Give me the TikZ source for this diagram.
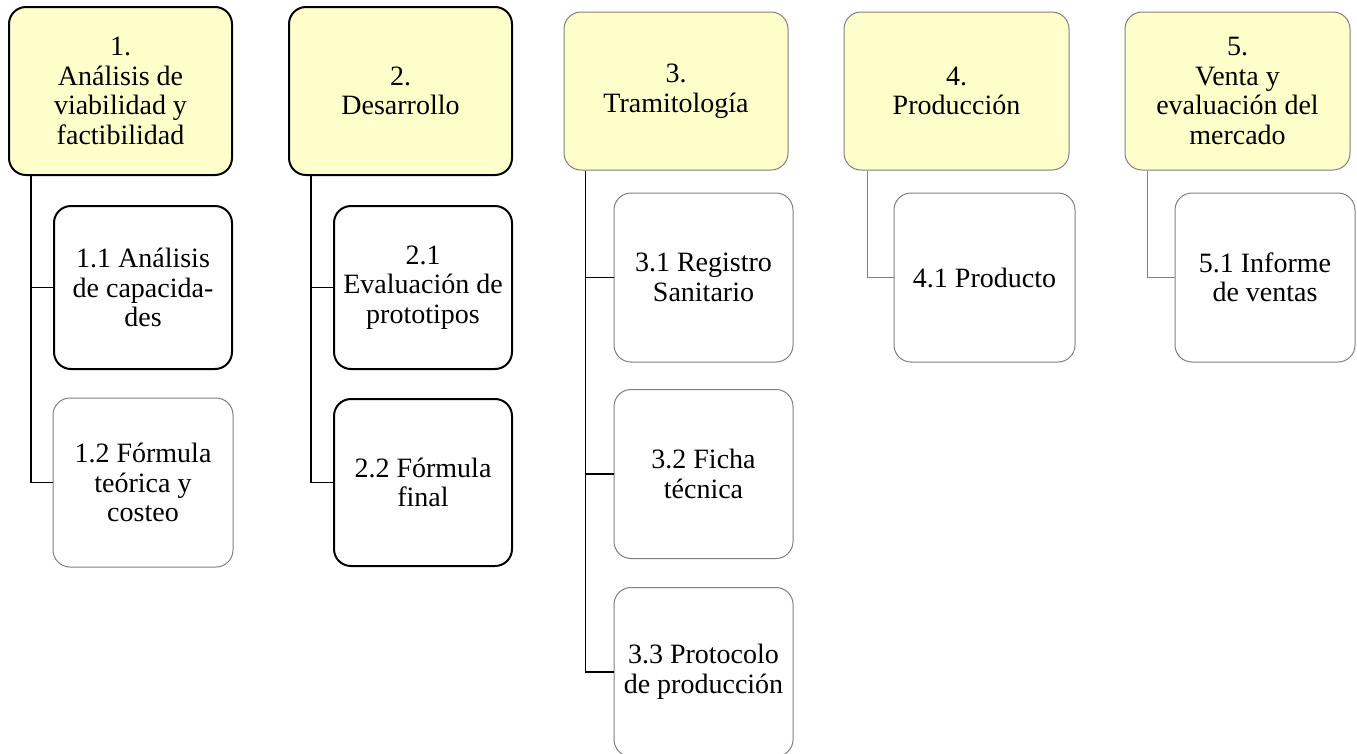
\documentclass[tikz,border=0pt]{standalone}
\usepackage{fontspec}
\setmainfont{Liberation Serif}
\definecolor{headfill}{HTML}{FFFFCC}
\definecolor{thinline}{HTML}{7F7F7F}
\tikzset{
  box/.style={rectangle, rounded corners=17pt, align=center, inner sep=0pt,
    font=\fontsize{28}{29.5}\selectfont, text=black},
  head/.style={box, fill=headfill},
  strong/.style={draw=black, line width=2pt},
  light/.style={draw=thinline, line width=1pt},
  conn/.style={draw=black, line width=1.4pt},
  connlight/.style={draw=thinline, line width=1pt},
}
\begin{document}
\begin{tikzpicture}[x=1pt, y=-1pt]
\useasboundingbox (0,0) rectangle (1357,753);

% top-level phases
\node[head, strong, minimum width=223pt, minimum height=168pt] (h1) at (120.5,91)
  {1.\\Análisis de\\viabilidad y\\factibilidad};
\node[head, strong, minimum width=223pt, minimum height=168pt] (h2) at (400.5,91)
  {2.\\Desarrollo};
\node[head, light, minimum width=224pt, minimum height=158pt] (h3) at (676,91)
  {3.\\Tramitología};
\node[head, light, minimum width=225pt, minimum height=158pt] (h4) at (956.5,91)
  {4.\\Producción};
\node[head, light, minimum width=225pt, minimum height=158pt] (h5) at (1237.5,91)
  {5.\\Venta y\\evaluación del\\mercado};

% deliverables
\node[box, strong, minimum width=178pt, minimum height=163pt] (c11) at (143,287.5)
  {1.1 Análisis\\de capacida-\\des};
\node[box, light, minimum width=180pt, minimum height=169pt] (c12) at (143,482.5)
  {1.2 Fórmula\\teórica y\\costeo};
\node[box, strong, minimum width=178pt, minimum height=163pt] (c21) at (423,287.5)
  {2.1\\Evaluación de\\prototipos};
\node[box, strong, minimum width=178pt, minimum height=167pt] (c22) at (423,482.5)
  {2.2 Fórmula\\final};
\node[box, light, minimum width=179pt, minimum height=169pt] (c31) at (703.5,277.5)
  {3.1 Registro\\Sanitario};
\node[box, light, minimum width=179pt, minimum height=169pt] (c32) at (703.5,474)
  {3.2 Ficha\\técnica};
\node[box, light, minimum width=179pt, minimum height=169pt] (c33) at (703.5,672)
  {3.3 Protocolo\\de producción};
\node[box, light, minimum width=181pt, minimum height=169pt] (c41) at (984.5,277.5)
  {4.1 Producto};
\node[box, light, minimum width=180pt, minimum height=169pt] (c51) at (1265,277.5)
  {5.1 Informe\\de ventas};

% connectors from each phase to its deliverables
\coordinate (r1) at ([xshift=23pt]h1.south west);
\coordinate (r2) at ([xshift=23pt]h2.south west);
\coordinate (r3) at ([xshift=22pt]h3.south west);
\coordinate (r4) at ([xshift=24pt]h4.south west);
\coordinate (r5) at ([xshift=23pt]h5.south west);

\draw[conn] (r1) |- (c11.west);
\draw[conn] (r1) |- (c12.west);
\draw[conn] (r2) |- (c21.west);
\draw[conn] (r2) |- (c22.west);
\draw[conn] (r3) |- (c31.west);
\draw[conn] (r3) |- (c32.west);
\draw[conn] (r3) |- (c33.west);
\draw[connlight] (r4) |- (c41.west);
\draw[connlight] (r5) |- (c51.west);
\end{tikzpicture}
\end{document}
